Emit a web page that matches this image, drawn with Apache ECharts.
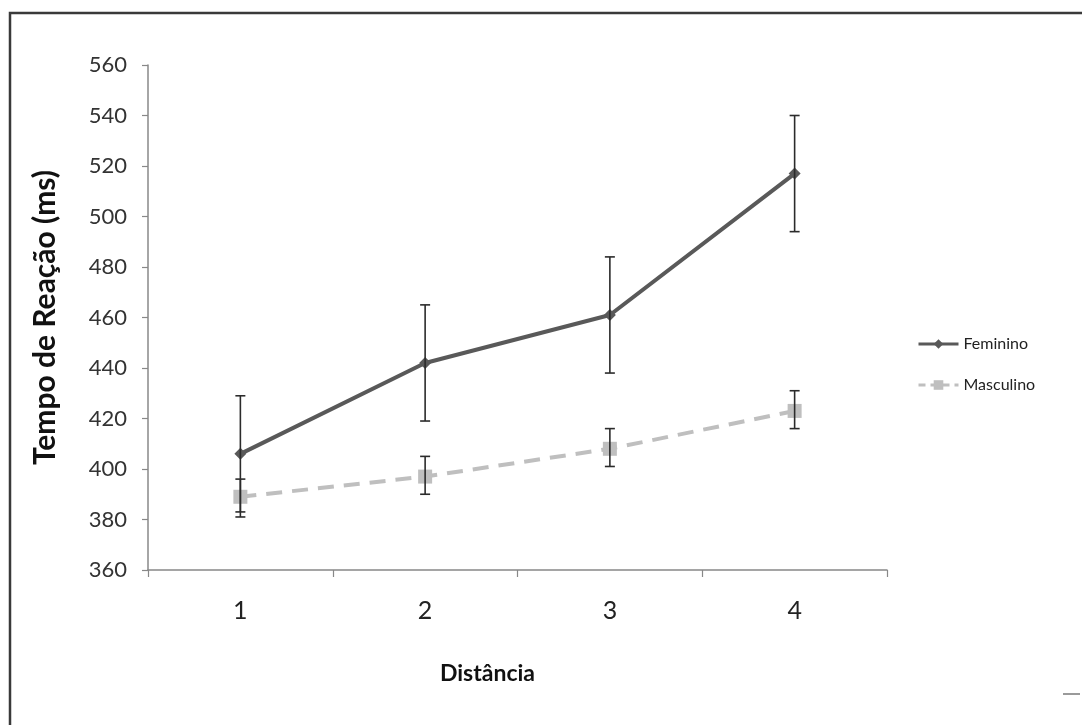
<!DOCTYPE html>
<html>
<head>
<meta charset="utf-8">
<script src="https://cdn.jsdelivr.net/npm/echarts@6/dist/echarts.min.js"></script>
<style>html,body{margin:0;padding:0;background:#fff;}#c{width:1082px;height:725px;}</style>
</head>
<body>
<div id="c"></div>
<script>
const categories = ['1', '2', '3', '4'];
const feminino = [406, 442, 461, 517];
const femininoLow = [383, 419, 438, 494];
const femininoHigh = [429, 465, 484, 540];
const masculino = [389, 397, 408, 423];
const masculinoLow = [381, 390, 401, 416];
const masculinoHigh = [396, 405, 416, 431];
const yMin = 360, yMax = 560, yStep = 20;

const FONT = 'Lato, "Open Sans", sans-serif';

function errorSeries(name, low, high) {
  return {
    type: 'custom',
    name: name + '_err',
    z: 5,
    silent: true,
    data: categories.map((c, i) => [i, low[i], high[i]]),
    renderItem: function (params, api) {
      const x = api.value(0);
      const lo = api.coord([x, api.value(1)]);
      const hi = api.coord([x, api.value(2)]);
      const hw = 5;
      const style = { stroke: '#2b2b2b', lineWidth: 1.6 };
      return {
        type: 'group',
        children: [
          { type: 'line', shape: { x1: lo[0], y1: lo[1], x2: hi[0], y2: hi[1] }, style },
          { type: 'line', shape: { x1: lo[0] - hw, y1: lo[1], x2: lo[0] + hw, y2: lo[1] }, style },
          { type: 'line', shape: { x1: hi[0] - hw, y1: hi[1], x2: hi[0] + hw, y2: hi[1] }, style }
        ]
      };
    }
  };
}

const chart = echarts.init(document.getElementById('c'), null, { renderer: 'canvas' });
chart.setOption({
  animation: false,
  backgroundColor: '#fff',
  textStyle: { fontFamily: FONT },
  grid: { left: 148, right: 195, top: 65, bottom: 155 },
  legend: {
    orient: 'vertical',
    left: 912,
    top: 331,
    itemGap: 25,
    itemWidth: 40,
    itemHeight: 12,
    data: [
      { name: 'Feminino', lineStyle: { width: 3, type: 'solid' } },
      { name: 'Masculino', lineStyle: { width: 3, type: [7, 5] } }
    ],
    textStyle: { fontFamily: FONT, fontSize: 16, color: '#222' }
  },
  xAxis: {
    type: 'category',
    data: categories,
    boundaryGap: true,
    name: 'Distância',
    nameLocation: 'middle',
    nameGap: 92,
    nameTextStyle: { fontFamily: FONT, fontSize: 23, fontWeight: 'bold', color: '#111', padding: [0, 60, 0, 0] },
    axisLine: { lineStyle: { color: '#888', width: 1.5 } },
    axisTick: { show: true, length: 7, inside: false, lineStyle: { color: '#888', width: 1.2 } },
    axisLabel: { fontFamily: FONT, fontSize: 25, color: '#222', margin: 28 },
    splitLine: { show: false }
  },
  yAxis: {
    type: 'value',
    min: yMin,
    max: yMax,
    interval: yStep,
    name: 'Tempo de Reação (ms)',
    nameLocation: 'middle',
    nameGap: 88,
    nameTextStyle: { fontFamily: FONT, fontSize: 30, fontWeight: 'bold', color: '#111' },
    axisLine: { show: true, lineStyle: { color: '#888', width: 1.5 } },
    axisTick: { show: true, length: 6, inside: false, lineStyle: { color: '#888', width: 1.2 } },
    axisLabel: { fontFamily: FONT, fontSize: 22, color: '#333', margin: 21 },
    splitLine: { show: false }
  },
  series: [
    {
      name: 'Feminino',
      type: 'line',
      data: feminino,
      z: 4,
      symbol: 'diamond',
      symbolSize: 12,
      lineStyle: { color: '#595959', width: 4 },
      itemStyle: { color: '#595959' }
    },
    {
      name: 'Masculino',
      type: 'line',
      data: masculino,
      z: 3,
      symbol: 'rect',
      symbolSize: 14,
      lineStyle: { color: '#bfbfbf', width: 4, type: [16, 10] },
      itemStyle: { color: '#bfbfbf' }
    },
    errorSeries('Feminino', femininoLow, femininoHigh),
    errorSeries('Masculino', masculinoLow, masculinoHigh)
  ],
  graphic: [
    { type: 'rect', silent: true, shape: { x: 10, y: 13, width: 1100, height: 800 }, style: { fill: 'none', stroke: '#3a3a3a', lineWidth: 2.5 } },
    { type: 'line', silent: true, shape: { x1: 1063, y1: 694, x2: 1080, y2: 694 }, style: { stroke: '#9a9a9a', lineWidth: 2 } }
  ]
});
</script>
</body>
</html>
